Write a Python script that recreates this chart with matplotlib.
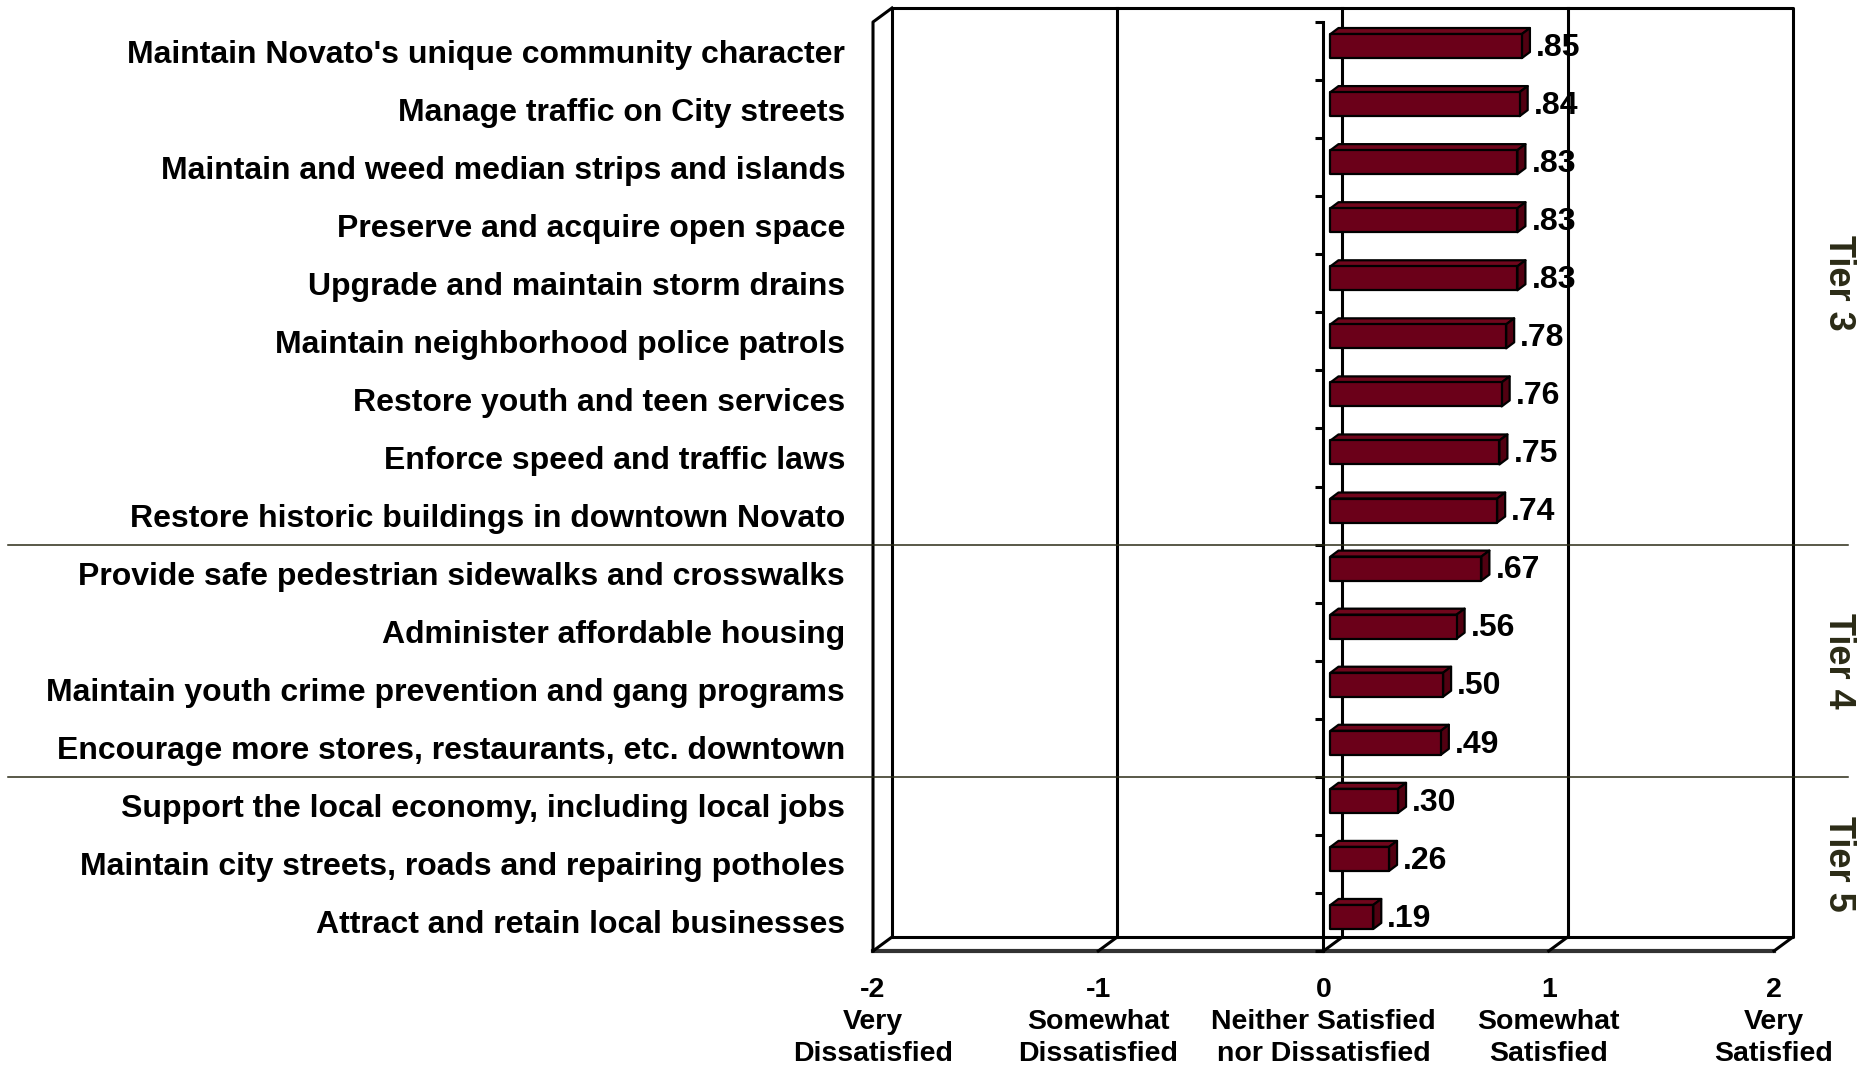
import numpy as np
import matplotlib.pyplot as plt
from matplotlib.patches import Polygon
from matplotlib.transforms import blended_transform_factory

plt.rcParams['font.family'] = ['Liberation Sans', 'DejaVu Sans']
plt.rcParams['font.weight'] = 'bold'

# Services, top to bottom, with mean satisfaction scores
services = [
    "Maintain Novato's unique community character",
    "Manage traffic on City streets",
    "Maintain and weed median strips and islands",
    "Preserve and acquire open space",
    "Upgrade and maintain storm drains",
    "Maintain neighborhood police patrols",
    "Restore youth and teen services",
    "Enforce speed and traffic laws",
    "Restore historic buildings in downtown Novato",
    "Provide safe pedestrian sidewalks and crosswalks",
    "Administer affordable housing",
    "Maintain youth crime prevention and gang programs",
    "Encourage more stores, restaurants, etc. downtown",
    "Support the local economy, including local jobs",
    "Maintain city streets, roads and repairing potholes",
    "Attract and retain local businesses",
]
scores = [0.85, 0.84, 0.83, 0.83, 0.83, 0.78, 0.76, 0.75, 0.74,
          0.67, 0.56, 0.50, 0.49, 0.30, 0.26, 0.19]

tier_names = ["Tier 3", "Tier 4", "Tier 5"]
tier_sizes = [9, 4, 3]

scale_vals = [-2, -1, 0, 1, 2]
scale_labels = ["-2\nVery\nDissatisfied",
                "-1\nSomewhat\nDissatisfied",
                "0\nNeither Satisfied\nnor Dissatisfied",
                "1\nSomewhat\nSatisfied",
                "2\nVery\nSatisfied"]

bar_front = '#6b0019'
bar_top = '#70061c'
bar_side = '#520011'
tier_color = '#2b2b16'

fig = plt.figure(figsize=(18.63, 10.67), dpi=100)
ax = fig.add_axes([0.4686, 0.1087, 0.4938, 0.8838])

n = len(services)
# pseudo-3D depth of the chart box, in data units
dx, dy = 19 / 225.25, 14 / 58.0
ax.set_xlim(-2, 2 + dx)
ax.set_ylim(0, n + dy)
for s in ax.spines.values():
    s.set_visible(False)

ycent = n - np.arange(n) - 0.5

ax.set_yticks(ycent, services)
ax.tick_params(axis='y', length=0, pad=20, labelsize=23)
ax.set_xticks(scale_vals, scale_labels)
ax.tick_params(axis='x', length=0, pad=19, labelsize=20.5)
for t in ax.get_xticklabels():
    t.set_linespacing(1.3)

kw = dict(color='black', lw=2.2, solid_capstyle='projecting', clip_on=False)
# back wall and its gridlines
ax.plot([-2 + dx, 2 + dx, 2 + dx, -2 + dx, -2 + dx],
        [dy, dy, n + dy, n + dy, dy], zorder=1, **kw)
for k in scale_vals[1:-1]:
    ax.plot([k + dx, k + dx], [dy, n + dy], zorder=1, **kw)
# floor
ax.plot([-2, 2], [0, 0], color='#333333', lw=3, clip_on=False, zorder=2)
for k in scale_vals:
    ax.plot([k, k + dx], [0, dy], zorder=2, **kw)
# left wall
ax.plot([-2, -2, -2 + dx], [0, n, n + dy], zorder=2, **kw)

# bars
ox, oy = 7 / 225.25, 5 / 58.0
bx, by = 8 / 225.25, 6 / 58.0
bh = 24 / 58.0
for yc, v in zip(ycent, scores):
    x0, x1 = ox, v + ox
    y0, y1 = yc - bh / 2 + oy, yc + bh / 2 + oy
    pe = dict(edgecolor='black', lw=1.6, joinstyle='round', zorder=4)
    ax.add_patch(Polygon([(x0, y1), (x1, y1), (x1 + bx, y1 + by), (x0 + bx, y1 + by)],
                         facecolor=bar_top, **pe))
    ax.add_patch(Polygon([(x1, y0), (x1 + bx, y0 + by), (x1 + bx, y1 + by), (x1, y1)],
                         facecolor=bar_side, **pe))
    ax.add_patch(Polygon([(x0, y0), (x1, y0), (x1, y1), (x0, y1)],
                         facecolor=bar_front, **pe))
    ax.text(x1 + bx + 0.027, (y0 + y1) / 2 - 0.03, f"{v:.2f}".lstrip('0'),
            ha='left', va='center', fontsize=23, zorder=5)

# category axis at zero with ticks between categories
ax.plot([0, 0], [0, n], zorder=3, **kw)
ax.hlines(np.arange(n + 1), -0.036, 0, color='black', lw=2.2, zorder=3, clip_on=False)

# tier separators and labels
trans = blended_transform_factory(fig.transFigure, ax.transData)
bounds = n - np.cumsum(tier_sizes)
for b in bounds[:-1]:
    ax.plot([8 / 1863, 1848 / 1863], [b, b], color=tier_color, lw=1.1,
            transform=trans, clip_on=False, zorder=6)
tops = np.concatenate([[n], bounds[:-1]])
for name, top, b in zip(tier_names, tops, bounds):
    ax.text(0.987, (top + b) / 2, name, transform=trans, rotation=-90,
            ha='center', va='center', fontsize=26, color=tier_color)

fig.savefig('out.png', dpi=100)
